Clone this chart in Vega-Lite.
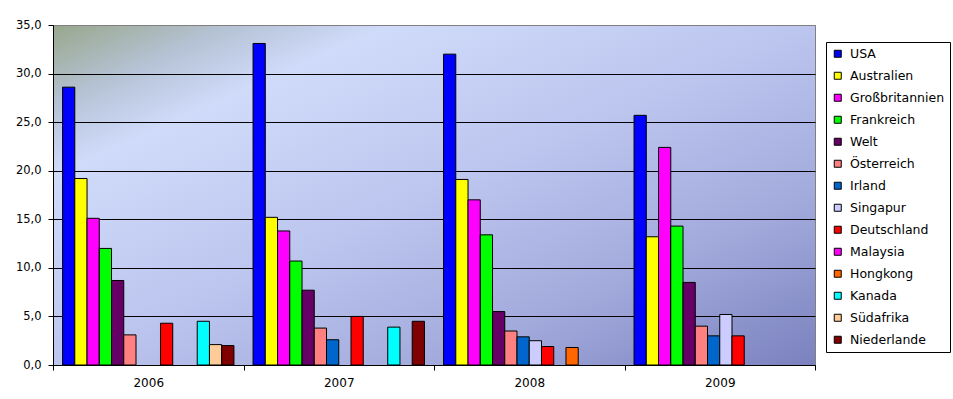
{
  "$schema": "https://vega.github.io/schema/vega-lite/v6.json",
  "autosize": "none",
  "width": 762,
  "height": 340,
  "padding": {"left": 53, "top": 25, "right": 138, "bottom": 34},
  "background": "white",
  "config": {
    "locale": {"number": {"decimal": ",", "thousands": ".", "grouping": [3], "currency": ["", " €"]}},
    "view": {
      "stroke": "#808080",
      "strokeWidth": 1,
      "fill": {
        "gradient": "linear",
        "x1": 0, "y1": 0, "x2": 1, "y2": 1,
        "stops": [
          {"offset": 0, "color": "#98A78C"},
          {"offset": 0.12, "color": "#B6C3D6"},
          {"offset": 0.22, "color": "#D0DBFA"},
          {"offset": 0.5, "color": "#BCC5EE"},
          {"offset": 0.75, "color": "#A2AADC"},
          {"offset": 1, "color": "#7A81BE"}
        ]
      }
    }
  },
  "data": {
    "values": [
      {"Jahr": "2006", "Land": "USA", "Wert": 28.6},
      {"Jahr": "2006", "Land": "Australien", "Wert": 19.2},
      {"Jahr": "2006", "Land": "Großbritannien", "Wert": 15.1},
      {"Jahr": "2006", "Land": "Frankreich", "Wert": 12.0},
      {"Jahr": "2006", "Land": "Welt", "Wert": 8.7},
      {"Jahr": "2006", "Land": "Österreich", "Wert": 3.1},
      {"Jahr": "2006", "Land": "Deutschland", "Wert": 4.3},
      {"Jahr": "2006", "Land": "Kanada", "Wert": 4.5},
      {"Jahr": "2006", "Land": "Südafrika", "Wert": 2.1},
      {"Jahr": "2006", "Land": "Niederlande", "Wert": 2.0},
      {"Jahr": "2007", "Land": "USA", "Wert": 33.1},
      {"Jahr": "2007", "Land": "Australien", "Wert": 15.2},
      {"Jahr": "2007", "Land": "Großbritannien", "Wert": 13.8},
      {"Jahr": "2007", "Land": "Frankreich", "Wert": 10.7},
      {"Jahr": "2007", "Land": "Welt", "Wert": 7.7},
      {"Jahr": "2007", "Land": "Österreich", "Wert": 3.8},
      {"Jahr": "2007", "Land": "Irland", "Wert": 2.6},
      {"Jahr": "2007", "Land": "Deutschland", "Wert": 5.0},
      {"Jahr": "2007", "Land": "Kanada", "Wert": 3.9},
      {"Jahr": "2007", "Land": "Niederlande", "Wert": 4.5},
      {"Jahr": "2008", "Land": "USA", "Wert": 32.0},
      {"Jahr": "2008", "Land": "Australien", "Wert": 19.1},
      {"Jahr": "2008", "Land": "Großbritannien", "Wert": 17.0},
      {"Jahr": "2008", "Land": "Frankreich", "Wert": 13.4},
      {"Jahr": "2008", "Land": "Welt", "Wert": 5.5},
      {"Jahr": "2008", "Land": "Österreich", "Wert": 3.5},
      {"Jahr": "2008", "Land": "Irland", "Wert": 2.9},
      {"Jahr": "2008", "Land": "Singapur", "Wert": 2.5},
      {"Jahr": "2008", "Land": "Deutschland", "Wert": 1.9},
      {"Jahr": "2008", "Land": "Hongkong", "Wert": 1.8},
      {"Jahr": "2009", "Land": "USA", "Wert": 25.7},
      {"Jahr": "2009", "Land": "Australien", "Wert": 13.2},
      {"Jahr": "2009", "Land": "Großbritannien", "Wert": 22.4},
      {"Jahr": "2009", "Land": "Frankreich", "Wert": 14.3},
      {"Jahr": "2009", "Land": "Welt", "Wert": 8.5},
      {"Jahr": "2009", "Land": "Österreich", "Wert": 4.0},
      {"Jahr": "2009", "Land": "Irland", "Wert": 3.0},
      {"Jahr": "2009", "Land": "Singapur", "Wert": 5.2},
      {"Jahr": "2009", "Land": "Deutschland", "Wert": 3.0}
    ]
  },
  "mark": {"type": "bar", "stroke": "black", "strokeWidth": 1},
  "encoding": {
    "x": {
      "field": "Jahr",
      "type": "nominal",
      "scale": {"paddingInner": 0, "paddingOuter": 0},
      "axis": {
        "title": null,
        "labelAngle": 0,
        "tickBand": "extent",
        "domainColor": "black",
        "tickColor": "black",
        "tickSize": 5,
        "labelFont": "DejaVu Sans",
        "labelFontSize": 12,
        "labelColor": "black",
        "labelPadding": 7,
        "grid": false
      }
    },
    "xOffset": {
      "field": "Land",
      "type": "nominal",
      "scale": {
        "domain": ["USA", "Australien", "Großbritannien", "Frankreich", "Welt", "Österreich", "Irland", "Singapur", "Deutschland", "Malaysia", "Hongkong", "Kanada", "Südafrika", "Niederlande"],
        "paddingInner": 0,
        "paddingOuter": 0.78
      }
    },
    "y": {
      "field": "Wert",
      "type": "quantitative",
      "scale": {"domain": [0, 35], "nice": false},
      "axis": {
        "title": null,
        "values": [0, 5, 10, 15, 20, 25, 30, 35],
        "format": ".1f",
        "domainColor": "black",
        "tickColor": "black",
        "tickSize": 5,
        "labelFont": "DejaVu Sans",
        "labelFontSize": 11.5,
        "labelColor": "black",
        "labelPadding": 7,
        "grid": true,
        "gridColor": {"condition": {"test": "datum.value == 35", "value": "#808080"}, "value": "black"},
        "gridOpacity": 1
      }
    },
    "color": {
      "field": "Land",
      "type": "nominal",
      "scale": {
        "domain": ["USA", "Australien", "Großbritannien", "Frankreich", "Welt", "Österreich", "Irland", "Singapur", "Deutschland", "Malaysia", "Hongkong", "Kanada", "Südafrika", "Niederlande"],
        "range": ["#0000FF", "#FFFF00", "#FF00FF", "#00FF00", "#660066", "#FF8080", "#0066CC", "#CCCCFF", "#FF0000", "#FF00FF", "#FF6600", "#00FFFF", "#FFCC99", "#800000"]
      },
      "legend": {
        "title": null,
        "orient": "none",
        "legendX": 773,
        "legendY": 17,
        "symbolType": "square",
        "symbolSize": 49,
        "symbolStrokeColor": "black",
        "symbolStrokeWidth": 1,
        "symbolOpacity": 1,
        "labelFont": "DejaVu Sans",
        "labelFontSize": 12.5,
        "labelColor": "black",
        "labelOffset": 6,
        "rowPadding": 9,
        "padding": 5.5,
        "strokeColor": "black",
        "fillColor": "white",
        "labelLimit": 200
      }
    }
  }
}
